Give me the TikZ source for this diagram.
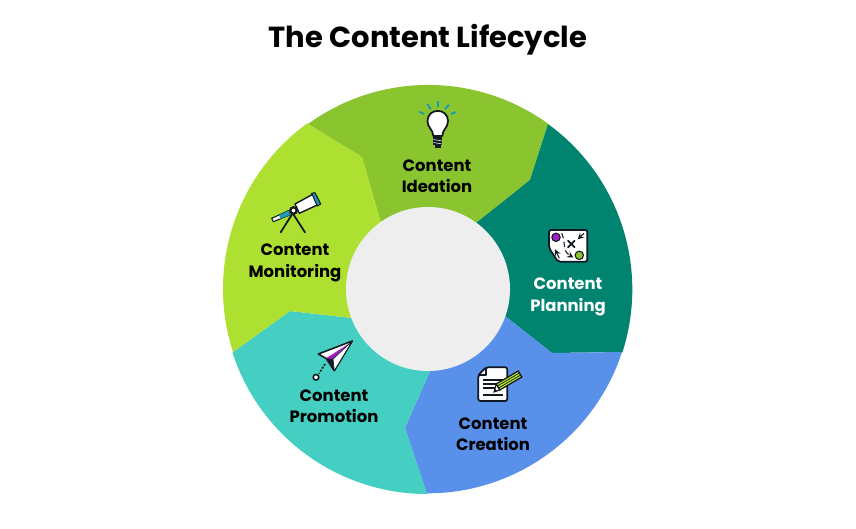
\documentclass[tikz,border=0pt]{standalone}
\usepackage{fontspec}
\setmainfont{Poppins}
\definecolor{ideationgreen}{HTML}{8AC42F}
\definecolor{planningteal}{HTML}{00846F}
\definecolor{creationblue}{HTML}{5890EA}
\definecolor{promotionaqua}{HTML}{45CFC2}
\definecolor{monitoringlime}{HTML}{ADE031}
\definecolor{holegrey}{HTML}{EEEEEE}
\definecolor{iconpurple}{HTML}{A020C0}
\definecolor{iconblue}{HTML}{1E9BB5}
\definecolor{iconink}{HTML}{101820}
\tikzset{
    stagelabel/.style={align=center, text=black, font=\fontsize{9.35}{12.2}\selectfont\bfseries},
    iconline/.style={draw=iconink, line width=0.6pt, line join=round},
    iconbold/.style={draw=iconink, line width=1pt, line join=round, line cap=round},
    iconray/.style={draw=iconblue, line width=1.1pt},
}
\begin{document}
\begin{tikzpicture}[x=0.02cm, y=-0.02cm]
    \useasboundingbox (0, 0) rectangle (856, 528);
    \fill[white] (0, 0) rectangle (856, 528);

    \fill[ideationgreen] (548, 124) -- (530, 180) -- (476, 223) -- (428, 289) -- (380, 220) -- (362, 157) -- (308, 124)
        arc[start angle=234, end angle=306, radius=204.5] -- cycle;
    \fill[planningteal] (622, 352) -- (552, 353) -- (505, 316) -- (428, 289) -- (476, 223) -- (530, 180) -- (548, 124)
        arc[start angle=-54, end angle=18, radius=204.5] -- cycle;
    \fill[creationblue] (427, 494) -- (405, 428) -- (430, 371) -- (428, 289) -- (505, 316) -- (552, 353) -- (622, 352)
        arc[start angle=18, end angle=90, radius=204.5] -- cycle;
    \fill[promotionaqua] (233, 352) -- (290, 311) -- (352, 318) -- (428, 289) -- (430, 371) -- (405, 428) -- (427, 494)
        arc[start angle=90, end angle=162, radius=204.5] -- cycle;
    \fill[monitoringlime] (308, 124) -- (362, 157) -- (380, 220) -- (428, 289) -- (352, 318) -- (290, 311) -- (233, 352)
        arc[start angle=162, end angle=234, radius=204.5] -- cycle;
    \fill[holegrey] (428, 289) circle[radius=82];

    \node[font=\fontsize{16.5}{20}\selectfont\bfseries] (title) at (428, 40) {The Content Lifecycle};
    \node[stagelabel] (ideation) at (437, 176.5) {Content\\Ideation};
    \node[stagelabel, text=white] (planning) at (568, 297) {Content\\Planning};
    \node[stagelabel] (creation) at (493, 434.5) {Content\\Creation};
    \node[stagelabel] (promotion) at (334, 406.5) {Content\\Promotion};
    \node[stagelabel] (monitoring) at (295, 263) {Content\\Monitoring};

    \draw[iconray] (437.7, 106.7) -- (437.7, 100.7);
    \draw[iconray] (430.7, 109.3) -- (427.3, 104);
    \draw[iconray] (445, 109.3) -- (449, 104.7);
    \draw[iconray] (424, 114) -- (419.3, 111.7);
    \draw[iconray] (451, 114) -- (455.7, 112);
    \draw[iconbold, fill=white] (433.3, 136) .. controls (433, 129) and (427.5, 128) .. (427.5, 121)
        .. controls (427.5, 107.5) and (448, 107.5) .. (448, 121)
        .. controls (448, 128) and (442.5, 129) .. (442.3, 136) -- cycle;
    \fill[iconink] (433.3, 137) rectangle (442.3, 145);
    \fill[iconink] (435, 145) rectangle (440.6, 147.5);
    \draw[white, line width=0.3pt] (433.3, 139.5) -- (442.3, 141);
    \draw[white, line width=0.3pt] (433.3, 142.5) -- (442.3, 144);

    \draw[iconbold, fill=white, rounded corners=1.2pt] (549, 230) -- (587.3, 230) -- (587.3, 261.7) -- (558, 261.7) -- (549, 248) -- cycle;
    \fill[iconpurple, draw=iconink, line width=0.6pt] (556, 237.3) circle[radius=4.2];
    \fill[ideationgreen, draw=iconink, line width=0.6pt] (579.3, 255.3) circle[radius=4.2];
    \draw[iconbold] (568, 240.7) -- (574.6, 247.3);
    \draw[iconbold] (574.6, 240.7) -- (568, 247.3);
    \draw[iconline, -stealth] (584, 233.3) -- (577.7, 239.3);
    \draw[iconline, -stealth] (559.3, 258.3) -- (555, 249.3);
    \draw[iconline, densely dashed, -stealth] (561.7, 233.3) .. controls (566, 243) and (562, 251) .. (573.5, 257.5);

    \draw[iconbold, fill=white, rounded corners=1.2pt] (478.3, 375) -- (486, 367.3) -- (507.3, 367.3) -- (507.3, 401) -- (478.3, 401) -- cycle;
    \draw[iconline] (486, 367.3) -- (486, 375) -- (478.3, 375);
    \draw[iconline] (483, 380) -- (503, 380);
    \draw[iconline] (483, 384) -- (499, 384);
    \draw[iconline] (483, 388) -- (495, 388);
    \draw[iconline] (483, 395) -- (503, 395);
    \fill[white, draw=iconink, line width=0.6pt] (494, 392) -- (496.2, 384) -- (499.8, 390) -- cycle;
    \fill[iconink] (494, 392) -- (495, 388.5) -- (497, 391) -- cycle;
    \fill[monitoringlime!85!yellow, draw=iconink, line width=0.7pt] (496.2, 384) -- (518.2, 371) -- (521.8, 377) -- (499.8, 390) -- cycle;
    \draw[iconink, line width=0.4pt] (497.4, 386) -- (519.4, 373);
    \draw[iconink, line width=0.4pt] (498.6, 388) -- (520.6, 375);

    \fill[white, draw=iconink, line width=0.9pt, line join=round] (352.3, 341) -- (318.3, 354) -- (326, 358.3) -- (334.3, 370.7) -- cycle;
    \fill[iconpurple] (350, 343) -- (326, 358.3) -- (331, 366) -- (333, 358.5) -- cycle;
    \fill[iconink] (326, 358.3) -- (333, 359) -- (334.3, 370.7) -- cycle;
    \fill[white, draw=iconink, line width=0.4pt, line join=round] (352.3, 341) -- (333, 359) -- (334.3, 370.7) -- cycle;
    \draw[iconink, line width=1pt, densely dotted] (325, 364) -- (319, 373.5);
    \draw[iconink, fill=white, line width=0.9pt] (316, 377.3) circle[radius=2.8];

    \draw[iconbold] (292.7, 213.3) -- (280.7, 232.3);
    \draw[iconbold] (292.7, 213.3) -- (305, 232.3);
    \draw[iconline, fill=white] (271.7, 218.3) -- (288.3, 210.7) -- (290, 215) -- (273.3, 221.7) -- cycle;
    \fill[iconblue] (279, 215) -- (288.6, 210.6) -- (290, 215) -- (280.5, 218.8) -- cycle;
    \draw[iconline, line width=0.8pt, fill=white] (295, 204) -- (313.3, 194) -- (317.3, 205) -- (299.3, 213.3) -- cycle;
    \draw[iconline, fill=iconblue] (311.7, 193.3) -- (315, 192.7) -- (320.7, 204) -- (317.3, 206) -- cycle;
    \fill[white, draw=iconink, line width=1.3pt] (293.5, 210.5) circle[radius=3.2];
\end{tikzpicture}
\end{document}
